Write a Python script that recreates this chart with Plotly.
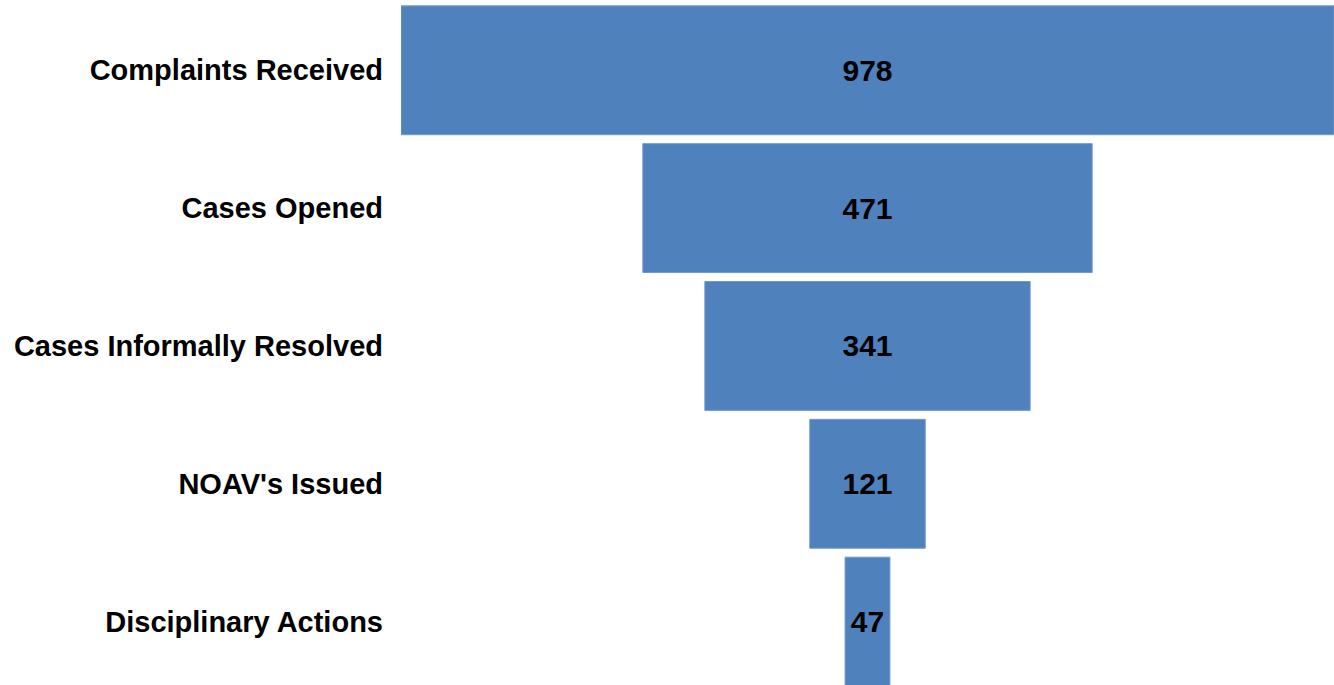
import plotly.graph_objects as go

stages = ["Complaints Received", "Cases Opened", "Cases Informally Resolved",
          "NOAV's Issued", "Disciplinary Actions"]
counts = [978, 471, 341, 121, 47]

fig = go.Figure(go.Funnel(
    y=stages,
    x=counts,
    text=[f"<b>{v}</b>" for v in counts],
    textinfo="text",
    textposition="inside",
    insidetextanchor="middle",
    constraintext="none",
    textfont=dict(family="Liberation Sans, Arial", size=30, color="black"),
    marker=dict(color="#4F81BD", line=dict(color="#6f98cc", width=1)),
    connector=dict(visible=False),
    hoverinfo="skip",
))

fig.update_layout(
    width=1334, height=685,
    margin=dict(l=401, r=0, t=0, b=0),
    paper_bgcolor="white", plot_bgcolor="white",
    funnelgap=0.065,
    showlegend=False,
    font=dict(family="Liberation Sans, Arial", color="black"),
)
fig.update_xaxes(visible=False, range=[-489, 489])
fig.update_yaxes(
    range=[4.46, -0.51],
    showgrid=False, zeroline=False, showline=False,
    ticks="", ticklabelstandoff=17,
    tickfont=dict(family="Liberation Sans, Arial", size=29, color="black", weight="bold"),
)

fig.write_html("out.html",
               config={"displayModeBar": False},
               post_script="document.body.style.margin='0';document.body.style.overflow='hidden';")
